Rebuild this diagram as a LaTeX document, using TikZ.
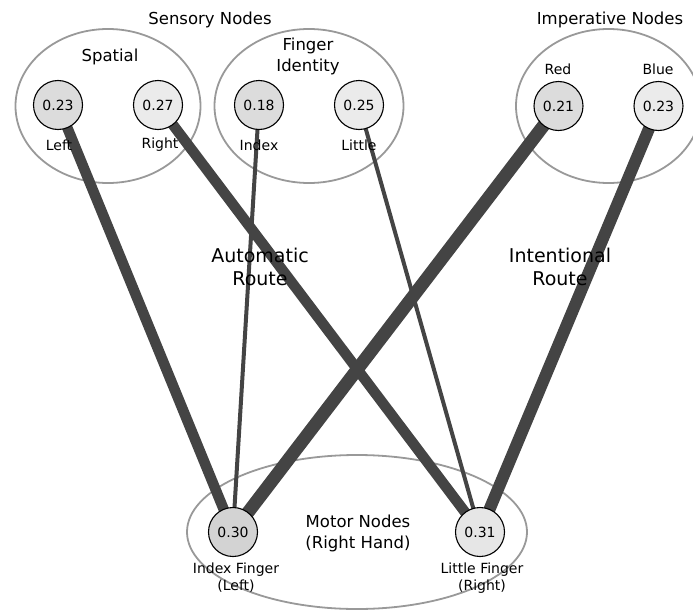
\documentclass[tikz,border=0pt]{standalone}
\usepackage{fontspec}
\setmainfont{DejaVu Sans}
\usetikzlibrary{shapes.geometric}
\pgfdeclarelayer{bg}
\pgfdeclarelayer{edgelayer}
\pgfsetlayers{bg,edgelayer,main}
\definecolor{edgegray}{HTML}{444444}
\definecolor{ringgray}{HTML}{999999}
\definecolor{fdark}{HTML}{DCDCDC}
\definecolor{flight}{HTML}{EBEBEB}
\definecolor{fmotorA}{HTML}{D3D3D3}
\definecolor{fmotorB}{HTML}{E6E6E6}
\tikzset{
  x=1pt, y=-1pt,
  group/.style={ellipse, draw=ringgray, line width=1.8pt, inner sep=0pt},
  unit/.style={circle, draw=black, line width=1.1pt, minimum size=49pt, inner sep=0pt, font=\fontsize{14}{16}\selectfont},
  lab/.style={inner sep=0pt, align=center, font=\fontsize{14}{17}\selectfont},
  title/.style={inner sep=0pt, align=center, font=\fontsize{16.5}{21}\selectfont},
  route/.style={inner sep=0pt, align=center, font=\fontsize{19}{23}\selectfont},
  wire/.style={draw=edgegray, line cap=butt}
}
\begin{document}
\begin{tikzpicture}
\useasboundingbox (0,0) rectangle (693,610);
% groups
\begin{pgfonlayer}{bg}
\node[group, minimum width=185pt, minimum height=154pt] (gspatial) at (108,106) {};
\node[group, minimum width=189pt, minimum height=154pt] (gfinger) at (309,106) {};
\node[group, minimum width=185pt, minimum height=154pt] (gimper) at (608.5,106) {};
\node[group, minimum width=340pt, minimum height=154pt] (gmotor) at (357,532) {};
\end{pgfonlayer}
% units
\node[unit, fill=fdark] (left) at (58,105) {0.23};
\node[unit, fill=flight] (right) at (158,105) {0.27};
\node[unit, fill=fdark] (index) at (259,105) {0.18};
\node[unit, fill=flight] (little) at (359,105) {0.25};
\node[unit, fill=fdark] (red) at (558.5,106) {0.21};
\node[unit, fill=flight] (blue) at (658.5,106) {0.23};
\node[unit, fill=fmotorA] (ifinger) at (233,532) {0.30};
\node[unit, fill=fmotorB] (lfinger) at (480,532) {0.31};
% connections
\begin{pgfonlayer}{edgelayer}
\draw[wire, line width=10.5pt] (left.center) -- (ifinger.center);
\draw[wire, line width=10.5pt] (right.center) -- (lfinger.center);
\draw[wire, line width=4pt] (index.center) -- (ifinger.center);
\draw[wire, line width=4pt] (little.center) -- (lfinger.center);
\draw[wire, line width=13pt] (red.center) -- (ifinger.center);
\draw[wire, line width=12pt] (blue.center) -- (lfinger.center);
\end{pgfonlayer}
% titles and labels
\node[title] (tsens) at (210,20) {Sensory Nodes};
\node[title] (timp) at (610,20) {Imperative Nodes};
\node[title] (tspatial) at (110,57) {Spatial};
\node[title] (tfinger) at (308,56) {Finger\\Identity};
\node[lab] (lred) at (558,69) {Red};
\node[lab] (lblue) at (658,69) {Blue};
\node[lab] (lleft) at (59,145) {Left};
\node[lab] (lright) at (160,145) {Right};
\node[lab] (lindex) at (259,145) {Index};
\node[lab] (llittle) at (359,145) {Little};
\node[route] (rauto) at (260,267) {Automatic\\Route};
\node[route] (rint) at (560,267) {Intentional\\Route};
\node[title] (tmotor) at (358,533) {Motor Nodes\\(Right Hand)};
\node[lab] (lif) at (236,578) {Index Finger\\(Left)};
\node[lab] (llf) at (482,578) {Little Finger\\(Right)};
\end{tikzpicture}
\end{document}
